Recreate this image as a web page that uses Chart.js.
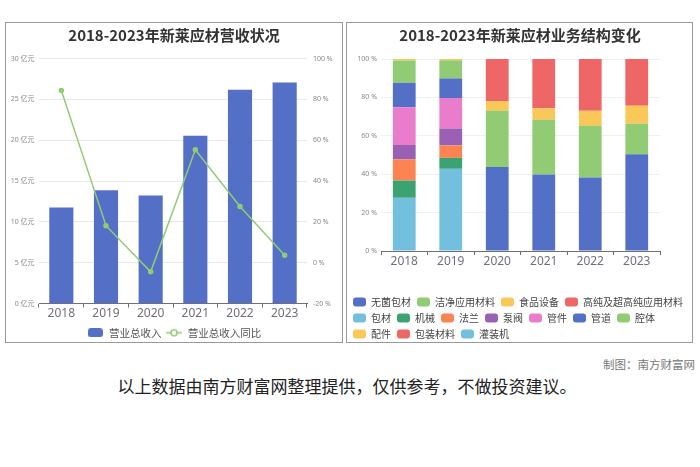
<!DOCTYPE html>
<html>
<head>
<meta charset="utf-8">
<script src="https://cdn.jsdelivr.net/npm/chart.js@4.4.1/dist/chart.umd.min.js"></script>
<style>
body{margin:0;background:#fff;width:700px;height:467px;position:relative;overflow:hidden;font-family:'Noto Sans CJK SC',sans-serif}
.panel{position:absolute;border:1px solid #999;box-sizing:border-box}
#p1{left:5px;top:22px;width:338px;height:321px}
#p2{left:346px;top:22px;width:347px;height:321px}
.wrap{position:absolute}
#w1{left:6px;top:23px;width:336px;height:325px}
#w2{left:347px;top:23px;width:346px;height:329px}
#credit{position:absolute;right:5px;top:356px;font-size:11.5px;color:#777}
#note{position:absolute;left:0;width:694px;top:373px;text-align:center;font-size:17px;color:#222}
</style>
</head>
<body>
<div class="panel" id="p1"></div>
<div class="panel" id="p2"></div>
<div class="wrap" id="w1"><canvas id="revenueChart"></canvas></div>
<div class="wrap" id="w2"><canvas id="structChart"></canvas></div>
<div id="credit">制图：南方财富网</div>
<div id="note">以上数据由南方财富网整理提供，仅供参考，不做投资建议。</div>
<script>
// data
const years = ['2018','2019','2020','2021','2022','2023'];
const revenue = [11.76, 13.88, 13.22, 20.53, 26.16, 27.06];   // 亿元
const revenueYoY = [84.3, 18.1, -4.5, 55.3, 27.5, 3.6];        // %

// 业务结构 (%)
const aseptic  = [null, null, 43.8, 39.8, 38.3, 50.4]; // 无菌包材
const clean    = [null, null, 29.2, 28.5, 26.9, 15.9]; // 洁净应用材料
const food     = [null, null, 5.1, 6.0, 7.8, 9.4];     // 食品设备
const highPure = [null, null, 21.9, 25.7, 27.0, 24.3]; // 高纯及超高纯应用材料
const packMat  = [27.7, 42.8, null, null, null, null]; // 包材
const machine  = [9.0, 5.7, null, null, null, null];   // 机械
const flange   = [11.0, 6.5, null, null, null, null];  // 法兰
const valve    = [7.5, 8.8, null, null, null, null];   // 泵阀
const fitting  = [19.7, 15.9, null, null, null, null]; // 管件
const pipe     = [12.7, 10.2, null, null, null, null]; // 管道
const cavity   = [11.6, 9.4, null, null, null, null];  // 腔体
const parts    = [0.9, 0.7, null, null, null, null];   // 配件
const packing  = [null, null, null, null, null, null]; // 包装材料
const filler   = [null, null, null, null, null, null]; // 灌装机

const revTicks = [0, 5, 10, 15, 20, 25, 30];
const yoyTicks = [-20, 0, 20, 40, 60, 80, 100];
const pctTicks = [0, 20, 40, 60, 80, 100];

const FONT = "'Noto Sans', 'Noto Sans CJK SC', sans-serif";
const CJK = "'Noto Sans CJK SC', sans-serif";
const BLUE = '#5470c6', GREEN = '#91cc75', YELLOW = '#fac858', RED = '#ee6666',
      SKY = '#73c0de', DKGREEN = '#3ba272', ORANGE = '#fc8452', PURPLE = '#9a60b4', PINK = '#ea7ccc';

// legend icons
function barIcon(color){
  const c = document.createElement('canvas'); c.width = 15; c.height = 9;
  const x = c.getContext('2d');
  x.fillStyle = color; x.beginPath(); x.roundRect(0, 0, 15, 9, 3); x.fill();
  return c;
}
function lineIcon(color){
  const c = document.createElement('canvas'); c.width = 16; c.height = 10;
  const x = c.getContext('2d');
  x.strokeStyle = color; x.lineWidth = 1.5;
  x.beginPath(); x.moveTo(0, 5); x.lineTo(16, 5); x.stroke();
  x.fillStyle = '#fff'; x.beginPath(); x.arc(8, 5, 3, 0, Math.PI*2); x.fill(); x.stroke();
  return c;
}

// left chart
new Chart(document.getElementById('revenueChart'), {
  type: 'bar',
  data: {
    labels: years,
    datasets: [{
      label: '营业总收入',
      data: revenue,
      backgroundColor: BLUE,
      categoryPercentage: 1,
      barPercentage: 0.54,
      yAxisID: 'y',
      order: 2
    }, {
      type: 'line',
      label: '营业总收入同比',
      data: revenueYoY,
      borderColor: GREEN,
      backgroundColor: GREEN,
      borderWidth: 1.5,
      pointRadius: 2,
      tension: 0,
      yAxisID: 'y1',
      order: 1
    }]
  },
  options: {
    responsive: true,
    maintainAspectRatio: false,
    animation: false,
    layout: { padding: 0 },
    scales: {
      x: {
        grid: { display: true, drawOnChartArea: false, drawTicks: true, tickLength: 4, color: '#6e7079' },
        border: { color: '#6e7079' },
        ticks: { color: '#6e7079', font: { family: FONT, size: 12 }, padding: -1 },
        afterFit: s => { s.height = 20; }
      },
      y: {
        min: 0, max: 30,
        afterBuildTicks: s => { s.ticks = revTicks.map(v => ({ value: v })); },
        grid: { color: '#e6e9f0', drawTicks: false },
        border: { display: false },
        ticks: { color: '#888', font: { family: FONT, size: 7 }, padding: 4.5, callback: v => v + ' 亿元' },
        afterFit: s => { s.width = 33; }
      },
      y1: {
        position: 'right',
        min: -20, max: 100,
        afterBuildTicks: s => { s.ticks = yoyTicks.map(v => ({ value: v })); },
        grid: { display: false, drawTicks: false },
        border: { display: false },
        ticks: { color: '#888', font: { family: FONT, size: 7 }, padding: 6, callback: v => v + ' %' },
        afterFit: s => { s.width = 35; }
      }
    },
    plugins: {
      title: {
        display: true,
        text: '2018-2023年新莱应材营收状况',
        color: '#333',
        font: { family: CJK, size: 15, weight: 'bold' },
        padding: { top: 3, bottom: 14.5 }
      },
      legend: {
        position: 'bottom',
        labels: {
          usePointStyle: true,
          pointStyleWidth: 17,
          padding: 4,
          color: '#555',
          font: { family: CJK, size: 10.5 },
          generateLabels: chart => [
            { text: '营业总收入', pointStyle: barIcon(BLUE), datasetIndex: 0, lineWidth: 0, fontColor: '#555' },
            { text: '营业总收入同比', pointStyle: lineIcon(GREEN), datasetIndex: 1, lineWidth: 0, fontColor: '#555' }
          ]
        }
      },
      tooltip: { enabled: false }
    }
  }
});

// right chart
const series = [
  ['无菌包材', aseptic, BLUE],
  ['洁净应用材料', clean, GREEN],
  ['食品设备', food, YELLOW],
  ['高纯及超高纯应用材料', highPure, RED],
  ['包材', packMat, SKY],
  ['机械', machine, DKGREEN],
  ['法兰', flange, ORANGE],
  ['泵阀', valve, PURPLE],
  ['管件', fitting, PINK],
  ['管道', pipe, BLUE],
  ['腔体', cavity, GREEN],
  ['配件', parts, YELLOW],
  ['包装材料', packing, RED],
  ['灌装机', filler, SKY]
];

new Chart(document.getElementById('structChart'), {
  type: 'bar',
  data: {
    labels: years,
    datasets: series.map(([name, vals, color]) => ({
      label: name,
      data: vals,
      backgroundColor: color,
      categoryPercentage: 1,
      barPercentage: 0.49
    }))
  },
  options: {
    responsive: true,
    maintainAspectRatio: false,
    animation: false,
    layout: { padding: { bottom: 3 } },
    scales: {
      x: {
        stacked: true,
        grid: { display: true, drawOnChartArea: false, drawTicks: true, tickLength: 4, color: '#6e7079' },
        border: { color: '#6e7079' },
        ticks: { color: '#6e7079', font: { family: FONT, size: 12 }, padding: -1 },
        afterFit: s => { s.height = 40; }
      },
      y: {
        stacked: true,
        min: 0, max: 100,
        afterBuildTicks: s => { s.ticks = pctTicks.map(v => ({ value: v })); },
        grid: { color: '#eef0f4', drawTicks: false },
        border: { display: false },
        ticks: { color: '#888', font: { family: FONT, size: 7 }, padding: 4, callback: v => v + ' %' },
        afterFit: s => { s.width = 34; }
      },
      pad: {
        type: 'linear',
        axis: 'y',
        position: 'right',
        grid: { display: false },
        border: { display: false },
        ticks: { display: false },
        afterFit: s => { s.width = 33; }
      }
    },
    plugins: {
      title: {
        display: true,
        text: '2018-2023年新莱应材业务结构变化',
        color: '#333',
        font: { family: CJK, size: 15, weight: 'bold' },
        padding: { top: 3, bottom: 15 }
      },
      legend: {
        position: 'bottom',
        align: 'start',
        labels: {
          boxWidth: 13,
          boxHeight: 9,
          useBorderRadius: true,
          borderRadius: 3,
          padding: 6,
          color: '#444',
          font: { family: CJK, size: 10 }
        }
      },
      tooltip: { enabled: false }
    }
  }
});
</script>
</body>
</html>
